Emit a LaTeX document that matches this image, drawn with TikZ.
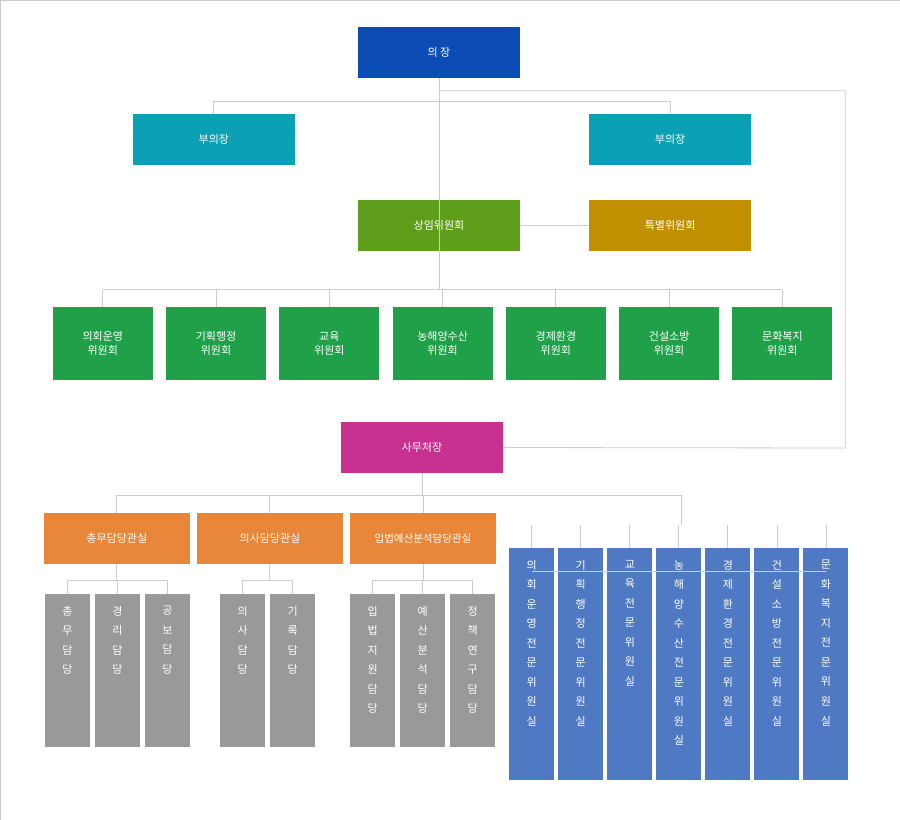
\documentclass[tikz,border=0pt]{standalone}
\usepackage{fontspec}
\setmainfont{Noto Sans CJK KR}
\usetikzlibrary{positioning}
\definecolor{cChair}{HTML}{0B4DB5}
\definecolor{cVice}{HTML}{0AA0B5}
\definecolor{cStand}{HTML}{5E9E1A}
\definecolor{cSpec}{HTML}{C09000}
\definecolor{cComm}{HTML}{21A04A}
\definecolor{cSec}{HTML}{C8318F}
\definecolor{cOff}{HTML}{E8863A}
\definecolor{cTeam}{HTML}{999999}
\definecolor{cExp}{HTML}{4F79C3}
\definecolor{cLine}{HTML}{CCCCCC}
\tikzset{
box/.style={fill=#1, text=white, font=\fontsize{11pt}{14pt}\selectfont, align=center, inner sep=0pt},
wide/.style={box=#1, minimum width=162pt, minimum height=51pt},
link/.style={draw=cLine, line width=0.8pt},
vtext/.style={text=white, font=\fontsize{11pt}{19.5pt}\selectfont, align=center, anchor=north, inner sep=0pt},
}
\newcommand{\teambox}[3]{%
\node[box=cTeam, minimum width=45pt, minimum height=153pt, anchor=north west] (#1) at (#2,594) {};
\node[vtext] at ([yshift=-12pt]#1.north) {#3};
}
\begin{document}
\begin{tikzpicture}[x=1pt,y=-1pt]
\draw[cLine, fill=white] (0.5,0.5) rectangle (899.5,819.5);

% top
\node[wide=cChair] (chair) at (439,52.5) {의 장};
\node[wide=cVice] (vl) at (214,139.5) {부의장};
\node[wide=cVice] (vr) at (670,139.5) {부의장};
\node[wide=cStand] (stand) at (439,225.5) {상임위원회};
\node[wide=cSpec] (spec) at (670,225.5) {특별위원회};
\node[wide=cSec] (sec) at (422,447.5) {사무처장};

\draw[link] (chair.south) -- (439,290);
\draw[link] (vl.north) -- ++(0,-12) -| (vr.north);
\draw[link] (stand.east) -- (spec.west);
\draw[link] (439,91) -| (845,448) -- (sec.east);

% committees
\foreach \n/\t [count=\i from 0] in {c1/의회운영, c2/기획행정, c3/교육, c4/농해양수산, c5/경제환경, c6/건설소방, c7/문화복지}
{
\node[box=cComm, minimum width=100pt, minimum height=73pt] (\n) at (103+113.2*\i,343.5) {\t\\위원회};
\draw[link] (\n.north) -- ++(0,-17);
}
\draw[link] ([yshift=17pt]c1.north) -- ([yshift=17pt]c7.north);

% offices
\node[box=cOff, minimum width=146pt, minimum height=51pt] (o1) at (117,538.5) {총무담당관실};
\node[box=cOff, minimum width=146pt, minimum height=51pt] (o2) at (270,538.5) {의사담당관실};
\node[box=cOff, minimum width=146pt, minimum height=51pt] (o3) at (423,538.5) {\fontsize{10.5pt}{13pt}\selectfont 입법예산분석담당관실};
\draw[link] (sec.south) -- (422,495);
\draw[link] (117,495) -- (681,495);
\foreach \o in {o1,o2,o3} \draw[link] (\o.north) -- ++(0,-18);

% teams
\teambox{t1}{45}{총\\무\\담\\당}
\teambox{t2}{95}{경\\리\\담\\당}
\teambox{t3}{145}{공\\보\\담\\당}
\teambox{t4}{220}{의\\사\\담\\당}
\teambox{t5}{270}{기\\록\\담\\당}
\teambox{t6}{350}{입\\법\\지\\원\\담\\당}
\teambox{t7}{400}{예\\산\\분\\석\\담\\당}
\teambox{t8}{450}{정\\책\\연\\구\\담\\당}
\draw[link] (o1.south) -- ++(0,16);
\draw[link] (t1.north) -- ++(0,-14) -| (t3.north);
\draw[link] (t2.north) -- ++(0,-14);
\draw[link] (o2.south) -- ++(0,16);
\draw[link] (t4.north) -- ++(0,-14) -| (t5.north);
\draw[link] (o3.south) -- ++(0,16);
\draw[link] (t6.north) -- ++(0,-14) -| (t8.north);
\draw[link] (t7.north) -- ++(0,-14);

% expert rooms
\draw[link] (681,495) -- (681,525);
\foreach \n/\t [count=\i from 0] in {e1/의\\회\\운\\영\\전\\문\\위\\원\\실, e2/기\\획\\행\\정\\전\\문\\위\\원\\실, e3/교\\육\\전\\문\\위\\원\\실, e4/농\\해\\양\\수\\산\\전\\문\\위\\원\\실, e5/경\\제\\환\\경\\전\\문\\위\\원\\실, e6/건\\설\\소\\방\\전\\문\\위\\원\\실, e7/문\\화\\복\\지\\전\\문\\위\\원\\실}
{
\node[box=cExp, minimum width=45pt, minimum height=232pt, anchor=north west] (\n) at (509+49*\i,548) {};
\node[vtext] at ([yshift=-12pt]\n.north) {\t};
\draw[link] (\n.north) -- ++(0,-23);
}
\draw[link] ([yshift=-23pt]e1.north) -- ([yshift=-23pt]e7.north);
\end{tikzpicture}
\end{document}
